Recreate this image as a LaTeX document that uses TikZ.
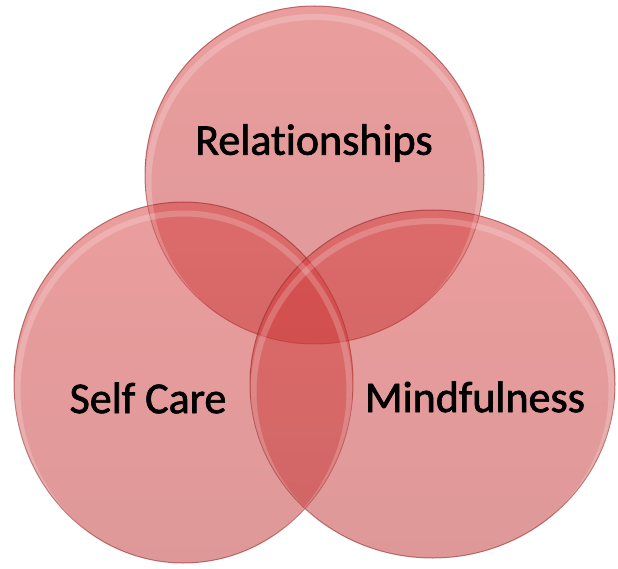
\documentclass[tikz,border=0pt]{standalone}
\usepackage{fontspec}
\setmainfont{Carlito}[Ligatures={NoCommon,NoRare,NoContextual}]
\newfontfamily\labelfont{Carlito}[Ligatures={NoCommon,NoRare,NoContextual},FakeBold=1.6]
\begin{document}
\begin{tikzpicture}[x=1pt,y=-1pt,
  disc/.style={top color=discTop,bottom color=discBottom,fill opacity=0.5,
    draw=discEdge,draw opacity=0.6,line width=1pt},
  label/.style={font=\labelfont\fontsize{44}{50}\selectfont,text=black}]
\definecolor{discTop}{RGB}{215,60,60}
\definecolor{discBottom}{RGB}{190,50,50}
\definecolor{discEdge}{RGB}{150,40,40}
\useasboundingbox (0,0) rectangle (618,569);
% the three overlapping discs
\path[disc] (314.5,175) ellipse [x radius=169.5,y radius=169];
\path[disc] (183.5,382.5) ellipse [x radius=169.5,y radius=180.5];
\path[disc] (432.5,384) ellipse [x radius=182.5,y radius=174];
% soft highlight along the upper rim of each disc
\begin{scope}
  \clip (314.5,175) ellipse [x radius=169.5,y radius=169];
  \draw[white,opacity=0.2,line width=6pt] (314.5,183) ellipse [x radius=166,y radius=166];
\end{scope}
\begin{scope}
  \clip (183.5,382.5) ellipse [x radius=169.5,y radius=180.5];
  \draw[white,opacity=0.2,line width=6pt] (183.5,390.5) ellipse [x radius=166,y radius=177];
\end{scope}
\begin{scope}
  \clip (432.5,384) ellipse [x radius=182.5,y radius=174];
  \draw[white,opacity=0.2,line width=6pt] (432.5,392) ellipse [x radius=179,y radius=171];
\end{scope}
% labels
\node[label] (rel) at (314,143) {Relationships};
\node[label] (self) at (148,398) {Self Care};
\node[label] (mind) at (475,397) {Mindfulness};
\end{tikzpicture}
\end{document}
